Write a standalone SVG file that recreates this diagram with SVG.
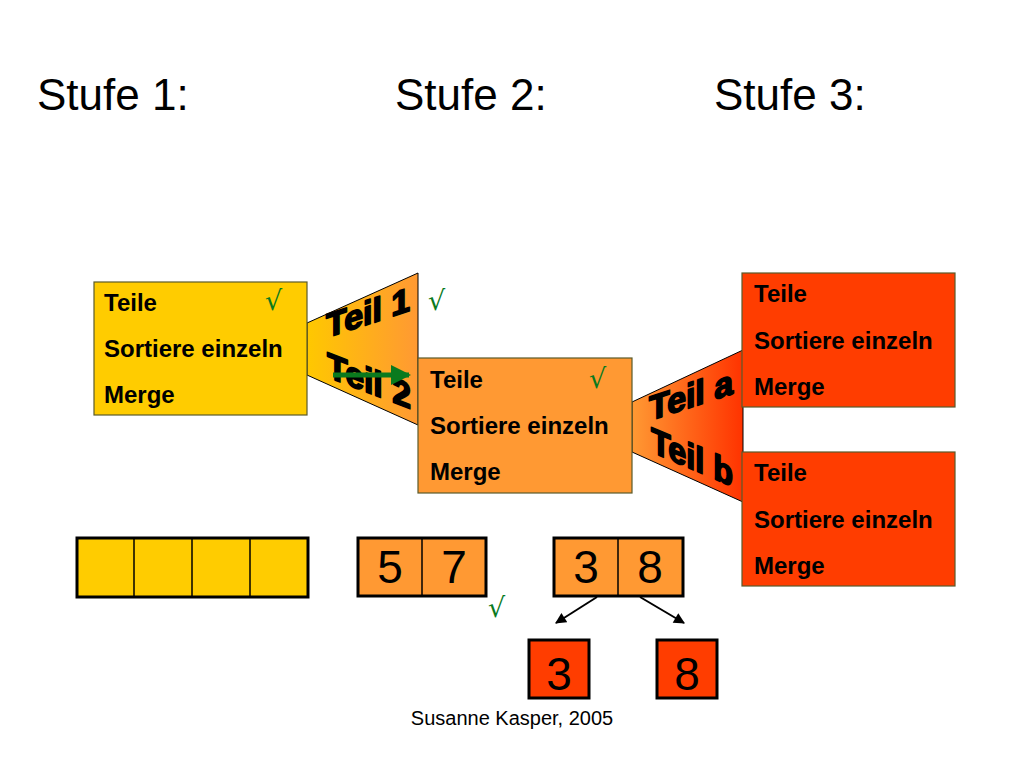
<svg xmlns="http://www.w3.org/2000/svg" width="1024" height="768" viewBox="0 0 1024 768">
<defs>
<linearGradient id="g1" x1="0" y1="0" x2="1" y2="0"><stop offset="0" stop-color="#FFC800"/><stop offset="1" stop-color="#FF9933"/></linearGradient>
<linearGradient id="g2" x1="0" y1="0" x2="1" y2="0"><stop offset="0" stop-color="#FF9933"/><stop offset="1" stop-color="#FF3300"/></linearGradient>
<marker id="ah" viewBox="0 0 10 10" refX="9" refY="5" markerWidth="12" markerHeight="11" orient="auto" markerUnits="userSpaceOnUse"><path d="M0,0 L10,5 L0,10 z" fill="#000"/></marker>
<marker id="gah" viewBox="0 0 10 10" refX="9" refY="5" markerWidth="20" markerHeight="20" orient="auto" markerUnits="userSpaceOnUse"><path d="M0,0 L10,5 L0,10 z" fill="#0A7A1E"/></marker>
</defs>
<style>
.title{font-family:"Liberation Sans",Arial,sans-serif;font-size:44px;fill:#000}
.lbl{font-family:"Liberation Sans",Arial,sans-serif;font-size:24px;font-weight:bold;fill:#000}
.num{font-family:"Liberation Sans",Arial,sans-serif;font-size:46px;fill:#000}
.wa{font-family:"Liberation Sans",Arial,sans-serif;font-weight:bold;fill:#000;stroke:#000;stroke-width:1.8;stroke-linejoin:round}
.chk{font-family:"DejaVu Sans",sans-serif;font-size:27px;fill:#0A7A1E}
.box{stroke:#5A5A2A;stroke-width:1.2}
.cell{stroke:#000;stroke-width:3}
.div{stroke:#000;stroke-width:1.5}
.trap{stroke:#000;stroke-width:1}
</style>
<rect width="1024" height="768" fill="#fff"/>
<text class="title" x="37" y="110">Stufe 1:</text>
<text class="title" x="395" y="110">Stufe 2:</text>
<text class="title" x="714" y="110">Stufe 3:</text>

<g id="trap1">
<path class="trap" d="M307,323 L418,273 L418,425 L307,375 Z" fill="url(#g1)"/>
<text class="wa" font-size="34" transform="translate(326,338) skewY(-18)" textLength="84" lengthAdjust="spacingAndGlyphs">Teil 1</text>
<text class="wa" font-size="36" transform="translate(327,377) skewY(21)" textLength="84" lengthAdjust="spacingAndGlyphs">Teil 2</text>
</g>
<g id="trap2">
<path class="trap" d="M632,402 L743,350 L743,502 L632,452 Z" fill="url(#g2)"/>
<text class="wa" font-size="35" transform="translate(649,421) skewY(-18)" textLength="84" lengthAdjust="spacingAndGlyphs">Teil a</text>
<text class="wa" font-size="36" transform="translate(651,452) skewY(23)" textLength="82" lengthAdjust="spacingAndGlyphs">Teil b</text>
</g>

<g id="box1">
<rect class="box" x="94" y="282" width="213" height="133" fill="#FFCC00"/>
<text class="lbl" x="104" y="311">Teile</text>
<text class="lbl" x="104" y="357">Sortiere einzeln</text>
<text class="lbl" x="104" y="403">Merge</text>
<text class="chk" x="265" y="310">√</text>
</g>
<g id="box2">
<rect class="box" x="418" y="358" width="214" height="135" fill="#FF9933"/>
<text class="lbl" x="430" y="388">Teile</text>
<text class="lbl" x="430" y="434">Sortiere einzeln</text>
<text class="lbl" x="430" y="480">Merge</text>
<text class="chk" x="589" y="388">√</text>
</g>
<g id="box3a">
<rect class="box" x="742" y="273" width="213" height="134" fill="#FF3D00"/>
<text class="lbl" x="754" y="302">Teile</text>
<text class="lbl" x="754" y="349">Sortiere einzeln</text>
<text class="lbl" x="754" y="395">Merge</text>
</g>
<g id="box3b">
<rect class="box" x="742" y="452" width="213" height="134" fill="#FF3D00"/>
<text class="lbl" x="754" y="481">Teile</text>
<text class="lbl" x="754" y="528">Sortiere einzeln</text>
<text class="lbl" x="754" y="574">Merge</text>
</g>
<text class="chk" x="428" y="310">√</text>

<g id="arr4">
<rect class="cell" x="77" y="538" width="231" height="59" fill="#FFCC00"/>
<line class="div" x1="134" y1="538" x2="134" y2="597"/>
<line class="div" x1="192" y1="538" x2="192" y2="597"/>
<line class="div" x1="250" y1="538" x2="250" y2="597"/>
</g>
<g id="arr57">
<rect class="cell" x="358" y="538" width="128" height="58" fill="#FF9933"/>
<line class="div" x1="422" y1="538" x2="422" y2="596"/>
<text class="num" x="390" y="583" text-anchor="middle">5</text>
<text class="num" x="454" y="583" text-anchor="middle">7</text>
</g>
<text class="chk" x="488" y="617">√</text>
<g id="arr38">
<rect class="cell" x="554" y="538" width="129" height="58" fill="#FF9933"/>
<line class="div" x1="618" y1="538" x2="618" y2="596"/>
<text class="num" x="586" y="583" text-anchor="middle">3</text>
<text class="num" x="650" y="583" text-anchor="middle">8</text>
</g>
<g id="sq3">
<rect class="cell" x="529" y="640" width="60" height="58" fill="#FF3D00"/>
<text class="num" x="559" y="690" text-anchor="middle">3</text>
</g>
<g id="sq8">
<rect class="cell" x="657" y="640" width="60" height="58" fill="#FF3D00"/>
<text class="num" x="687" y="690" text-anchor="middle">8</text>
</g>

<g id="connectors">
<line x1="597" y1="597" x2="556" y2="623" stroke="#000" stroke-width="2" marker-end="url(#ah)"/>
<line x1="640" y1="597" x2="684" y2="623" stroke="#000" stroke-width="2" marker-end="url(#ah)"/>
<line x1="333" y1="375" x2="409" y2="375" stroke="#0A7A1E" stroke-width="5" marker-end="url(#gah)"/>
</g>

<text x="512" y="725" text-anchor="middle" font-family="Liberation Sans, Arial, sans-serif" font-size="20" fill="#000">Susanne Kasper, 2005</text>
</svg>
